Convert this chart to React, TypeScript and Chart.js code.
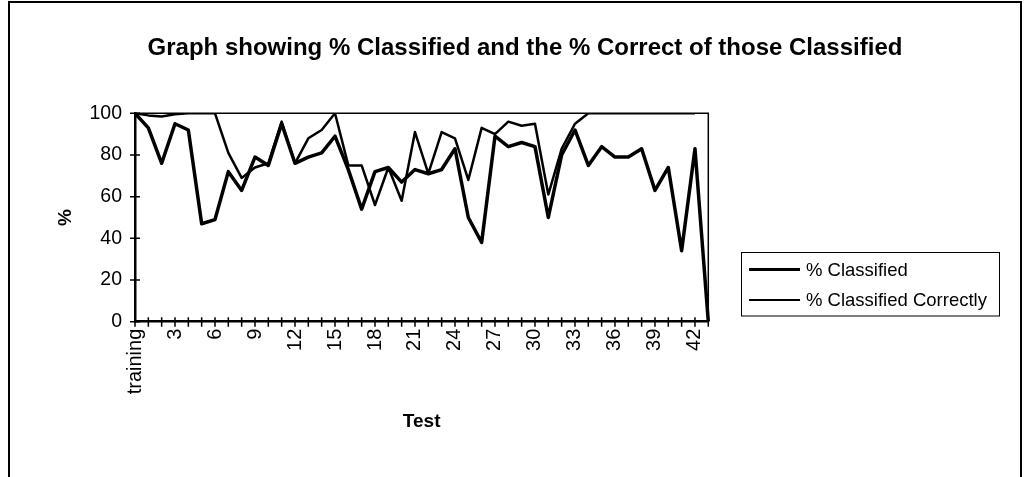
import React, { useEffect, useRef } from "react";
import { Chart, registerables } from "chart.js";

Chart.register(...registerables);

const chartTitle = "Graph showing % Classified and the % Correct of those Classified";
const xAxisTitle = "Test";
const yAxisTitle = "%";

const testLabels = [
  "training", "1", "2", "3", "4", "5", "6", "7", "8", "9", "10",
  "11", "12", "13", "14", "15", "16", "17", "18", "19", "20",
  "21", "22", "23", "24", "25", "26", "27", "28", "29", "30",
  "31", "32", "33", "34", "35", "36", "37", "38", "39", "40",
  "41", "42", "43",
];

const shownTickLabels = [
  "training", "3", "6", "9", "12", "15", "18", "21", "24", "27", "30", "33", "36", "39", "42",
];

const yTickValues = [0, 20, 40, 60, 80, 100];

const pctClassified = [
  100, 93, 76, 95, 92, 47, 49, 72, 63, 79, 75,
  95, 76, 79, 81, 89, 73, 54, 72, 74, 67,
  73, 71, 73, 83, 50, 38, 89, 84, 86, 84,
  50, 80, 92, 75, 84, 79, 79, 83, 63, 74,
  34, 83, 0,
];

const pctClassifiedCorrectly = [
  100, 99, 98.5, 99.5, 100, 100, 100, 81, 69, 74, 76,
  96, 76, 88, 92, 100, 75, 75, 56, 74, 58,
  91, 71, 91, 88, 68, 93, 90, 96, 94, 95,
  61, 83, 95, 100, 100, 100, 100, 100, 100, 100,
  100, 100, null,
];

const seriesNames = ["% Classified", "% Classified Correctly"];

const FONT = '"Liberation Sans", Arial, sans-serif';

const decorPlugin = {
  id: "decor",
  beforeDraw(chart: any) {
    const ctx = chart.ctx;
    ctx.save();
    ctx.fillStyle = "#ffffff";
    ctx.fillRect(0, 0, chart.width, chart.height);
    ctx.restore();
  },
  afterDraw(chart: any) {
    const { ctx, chartArea: ca, scales } = chart;
    ctx.save();
    ctx.strokeStyle = "#000";
    ctx.fillStyle = "#000";

    // outer frame
    ctx.lineWidth = 2;
    ctx.beginPath();
    ctx.moveTo(9, chart.height + 4);
    ctx.lineTo(9, 2);
    ctx.lineTo(1021, 2);
    ctx.lineTo(1021, chart.height + 4);
    ctx.stroke();

    // plot area frame (top & right)
    ctx.lineWidth = 1.5;
    ctx.beginPath();
    ctx.moveTo(ca.left, ca.top);
    ctx.lineTo(ca.right, ca.top);
    ctx.lineTo(ca.right, ca.bottom);
    ctx.stroke();

    // crossing tick marks
    ctx.lineWidth = 1.5;
    const xs = scales.x;
    ctx.beginPath();
    for (let i = 0; i < xs.ticks.length; i++) {
      const px = xs.getPixelForTick(i);
      ctx.moveTo(px, ca.bottom - 4.5);
      ctx.lineTo(px, ca.bottom + 5);
    }
    const ys = scales.y;
    for (let i = 0; i < ys.ticks.length; i++) {
      const py = ys.getPixelForTick(i);
      ctx.moveTo(ca.left - 5, py);
      ctx.lineTo(ca.left + 5, py);
    }
    ctx.stroke();

    // title
    ctx.font = `bold 24px ${FONT}`;
    ctx.textAlign = "center";
    ctx.textBaseline = "alphabetic";
    ctx.fillText(chartTitle, 525, 55);

    // legend
    const lx = 741.5, ly = 252.5, lw = 258, lh = 63.5;
    ctx.fillStyle = "#fff";
    ctx.fillRect(lx, ly, lw, lh);
    ctx.strokeStyle = "#000";
    ctx.lineWidth = 1;
    ctx.strokeRect(lx, ly, lw, lh);
    const rows = [269.5, 300];
    ctx.font = `18.5px ${FONT}`;
    ctx.textAlign = "left";
    ctx.textBaseline = "middle";
    chart.data.datasets.forEach((ds: any, i: number) => {
      const y = rows[i];
      ctx.strokeStyle = ds.borderColor;
      ctx.lineWidth = ds.borderWidth - 0.5;
      ctx.beginPath();
      ctx.moveTo(749, y);
      ctx.lineTo(800, y);
      ctx.stroke();
      ctx.fillStyle = "#000";
      ctx.fillText(ds.label, 806, y + 1);
    });

    ctx.restore();
  },
};

export default function App() {
  const canvasRef = useRef<HTMLCanvasElement | null>(null);

  useEffect(() => {
    const canvas = canvasRef.current;
    if (!canvas) return;
    const chart = new Chart(canvas, {
      type: "line",
      data: {
        labels: testLabels,
        datasets: [
          {
            label: seriesNames[0],
            data: pctClassified,
            borderColor: "#000000",
            backgroundColor: "#000000",
            borderWidth: 3.5,
            borderJoinStyle: "round",
            pointRadius: 0,
            tension: 0,
            fill: false,
          },
          {
            label: seriesNames[1],
            data: pctClassifiedCorrectly as any,
            borderColor: "#000000",
            backgroundColor: "#000000",
            borderWidth: 2.5,
            borderJoinStyle: "round",
            pointRadius: 0,
            tension: 0,
            fill: false,
            spanGaps: false,
          },
        ],
      },
      options: {
        responsive: false,
        animation: false,
        events: [],
        layout: {
          padding: { left: 10, right: 1024 - 708.3, top: 113.3, bottom: 0 },
        },
        plugins: {
          legend: { display: false },
          title: { display: false },
          tooltip: { enabled: false },
        },
        scales: {
          x: {
            type: "category",
            offset: false,
            afterFit: (scale: any) => {
              scale.height = 477 - 321.7;
            },
            grid: {
              display: true,
              drawOnChartArea: false,
              drawTicks: true,
              tickLength: 5,
              color: "rgba(0,0,0,0)",
            },
            border: { display: true, color: "#000", width: 2.5 },
            ticks: {
              autoSkip: false,
              minRotation: 90,
              maxRotation: 90,
              padding: 2,
              color: "#000",
              font: { family: FONT, size: 20 },
              callback: function (this: any, value: any) {
                const lab = this.getLabelForValue(value);
                return shownTickLabels.includes(lab) ? lab : "";
              },
            },
            title: {
              display: true,
              text: xAxisTitle,
              color: "#000",
              font: { family: FONT, size: 19, weight: "bold" },
              padding: { top: 0, bottom: 44 },
            },
          },
          y: {
            min: 0,
            max: 100,
            afterFit: (scale: any) => {
              scale.width = 125;
            },
            afterBuildTicks: (scale: any) => {
              scale.ticks = yTickValues.map((v) => ({ value: v }));
            },
            grid: {
              display: true,
              drawOnChartArea: false,
              drawTicks: true,
              tickLength: 5,
              color: "rgba(0,0,0,0)",
            },
            border: { display: true, color: "#000", width: 2.5 },
            ticks: {
              padding: 8,
              color: "#000",
              font: { family: FONT, size: 19.5 },
            },
            title: {
              display: true,
              text: yAxisTitle,
              color: "#000",
              font: { family: FONT, size: 19, weight: "bold" },
              padding: { top: 44, bottom: 0 },
            },
          },
        },
      },
      plugins: [decorPlugin],
    } as any);
    return () => chart.destroy();
  }, []);

  return (
    <div style={{ position: "absolute", left: 0, top: 0, width: 1024, height: 477 }}>
      <canvas
        ref={canvasRef}
        width={1024}
        height={477}
        style={{ display: "block", width: 1024, height: 477 }}
      />
    </div>
  );
}
